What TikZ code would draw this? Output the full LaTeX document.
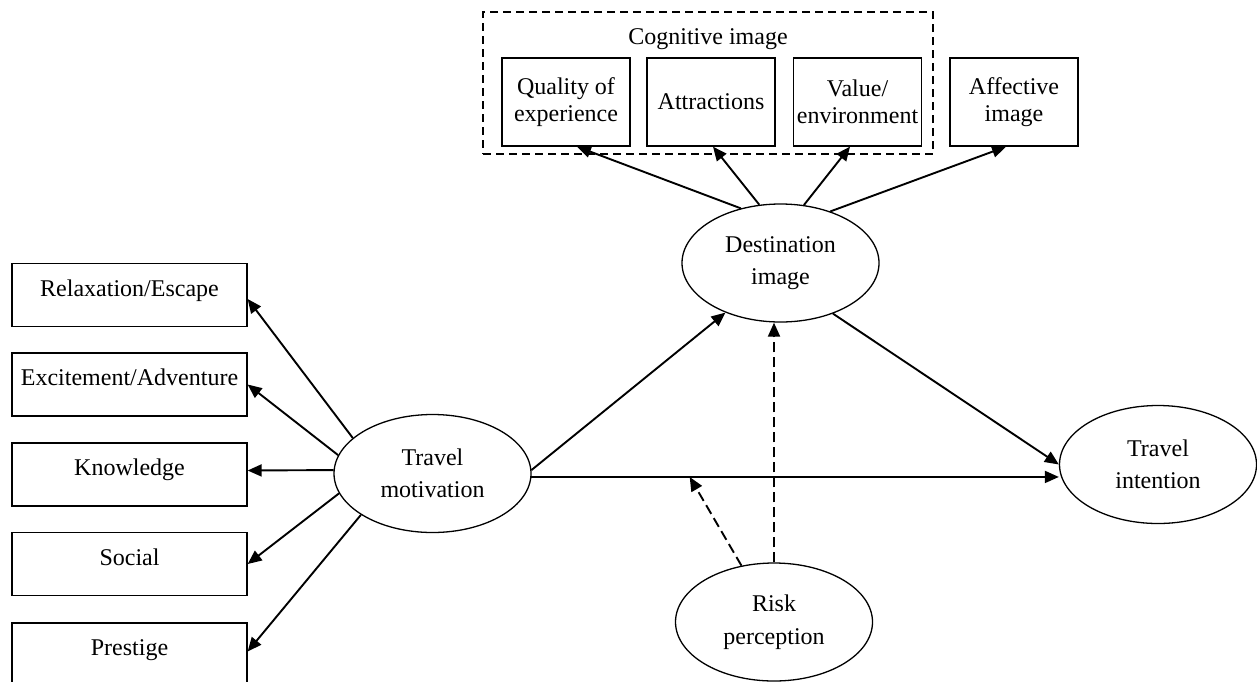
\documentclass[tikz,border=0pt]{standalone}
\usepackage{fontspec}
\setmainfont{Liberation Serif}
\usetikzlibrary{shapes.geometric,arrows.meta}
\tikzset{
  factor/.style={draw, line width=0.65pt, minimum width=117.5pt, minimum height=31.5pt, inner sep=0pt, text height=7.8pt, text depth=6.6pt},
  imgbox/.style={draw, line width=0.65pt, minimum width=64pt, minimum height=44pt, inner sep=0pt, align=center, font=\fontsize{12pt}{13.5pt}\selectfont},
  latent/.style={ellipse, draw, line width=0.65pt, minimum width=98.5pt, minimum height=59pt, inner sep=0pt, align=center},
  cogframe/.style={draw, line width=0.65pt, dash pattern=on 4pt off 2.5pt, minimum width=225pt, minimum height=71pt, inner sep=0pt},
  link/.style={-{Triangle[length=7pt,width=6pt]}, line width=0.95pt},
  moderate/.style={link, dash pattern=on 5pt off 2.5pt}
}
\begin{document}
\begin{tikzpicture}[x=0.5pt,y=-0.5pt,font=\fontsize{12pt}{16.25pt}\selectfont]
\useasboundingbox (0,0) rectangle (1257,681);
\node [cogframe] (cog) at (708,83) {};
\node (coglabel) at (708,39) {Cognitive image};
\node [imgbox] (qual) at (566,102) {Quality of\\experience};
\node [imgbox] (attr) at (711,102) {Attractions};
\node [imgbox] (val) at (857.5,102) {Value/\\environment};
\node [imgbox] (aff) at (1014,102) {Affective\\image};
\node [factor] (relax) at (129.5,295) {Relaxation/Escape};
\node [factor] (exc) at (129.5,384.5) {Excitement/Adventure};
\node [factor] (know) at (129.5,474.5) {Knowledge};
\node [factor] (soc) at (129.5,564) {Social};
\node [factor] (pres) at (129.5,654.5) {Prestige};
\node [latent] (tm) at (432.5,473.5) {Travel\\motivation};
\node [latent] (dest) at (780.5,263) {Destination\\image};
\node [latent] (ti) at (1158,464.5) {Travel\\intention};
\node [latent] (risk) at (774,622) {Risk\\perception};
\draw [link] (dest.126) -- ([xshift=5.5pt]qual.south);
\draw [link] (dest.110) -- ([xshift=1pt]attr.south);
\draw [link] (dest.68) -- ([xshift=-3.75pt]val.south);
\draw [link] (dest.46) -- ([xshift=-4pt]aff.south);
\draw [link] (tm.156) -- ([yshift=-2pt]relax.east);
\draw [link] (tm.169) -- (exc.east);
\draw [link] (tm.178) -- ([yshift=2pt]know.east);
\draw [link] (tm.192) -- (soc.east);
\draw [link] (tm.210) -- ([yshift=1.5pt]pres.east);
\draw [link] (tm.2) -- (dest.222);
\draw [link] (tm.-2) -- coordinate[pos=0.3] (mod) (tm.-2 -| ti.west);
\draw [link] (dest.316) -- (ti.west);
\draw [moderate] (risk.north) -- (risk.north |- dest.south);
\draw [moderate] (risk.120) -- (mod);
\end{tikzpicture}
\end{document}
